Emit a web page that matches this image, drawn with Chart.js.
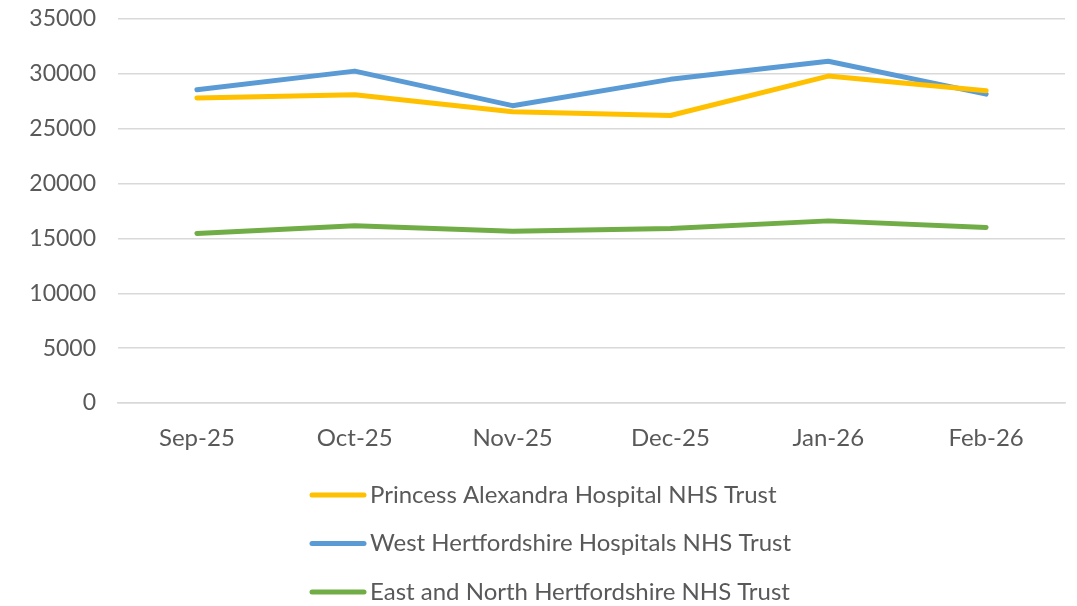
<!DOCTYPE html>
<html>
<head>
<meta charset="utf-8">
<script src="https://cdn.jsdelivr.net/npm/chart.js@4"></script>
<style>
  html, body { margin: 0; padding: 0; background: #fff; }
  #wrap { width: 1077px; height: 606px; }
</style>
</head>
<body>
<div id="wrap"><canvas id="chart" width="1077" height="606"></canvas></div>
<script>
// chart data
const months = ['Sep-25', 'Oct-25', 'Nov-25', 'Dec-25', 'Jan-26', 'Feb-26'];
const princessAlexandra = [27800, 28100, 26550, 26200, 29800, 28450];
const westHerts = [28550, 30250, 27100, 29500, 31150, 28150];
const eastNorthHerts = [15450, 16150, 15650, 15900, 16600, 16000];
const yTicks = [0, 5000, 10000, 15000, 20000, 25000, 30000, 35000];

const seriesNames = [
  'Princess Alexandra Hospital NHS Trust',
  'West Hertfordshire Hospitals NHS Trust',
  'East and North Hertfordshire NHS Trust'
];
const colors = ['#FFC000', '#5B9BD5', '#70AD47'];
const textColor = '#595959';
const font = 'Lato, "Open Sans", sans-serif';

// legend stacked vertically under the plot, like the Excel original
const stackedLegend = {
  id: 'stackedLegend',
  afterDraw(chart) {
    const ctx = chart.ctx;
    ctx.save();
    chart.data.datasets.forEach((ds, i) => {
      const y = 495 + i * 48.5;
      ctx.strokeStyle = ds.borderColor;
      ctx.lineWidth = 5;
      ctx.lineCap = 'round';
      ctx.beginPath();
      ctx.moveTo(312, y);
      ctx.lineTo(364, y);
      ctx.stroke();
      ctx.fillStyle = textColor;
      ctx.font = '24px ' + font;
      ctx.textBaseline = 'middle';
      ctx.fillText(ds.label, 370, y);
    });
    ctx.restore();
  }
};

const datasets = [princessAlexandra, westHerts, eastNorthHerts].map((vals, i) => ({
  label: seriesNames[i],
  data: vals,
  borderColor: colors[i],
  backgroundColor: colors[i],
  borderWidth: 5,
  borderCapStyle: 'round',
  borderJoinStyle: 'round',
  pointRadius: 0,
  tension: 0
}));

new Chart(document.getElementById('chart'), {
  type: 'line',
  data: { labels: months, datasets: datasets },
  options: {
    responsive: false,
    animation: false,
    layout: { padding: { top: 19, right: 12, bottom: 143, left: 0 } },
    plugins: {
      legend: { display: false },
      tooltip: { enabled: false }
    },
    scales: {
      x: {
        offset: true,
        grid: { display: false, drawTicks: false },
        border: { color: '#d9d9d9', width: 1.5 },
        ticks: { color: textColor, font: { family: font, size: 24 }, padding: 21, maxRotation: 0 },
        afterFit(scale) {
          scale.height = 60;
          scale.paddingLeft = 0;
          scale.paddingRight = 0;
        }
      },
      y: {
        min: 0,
        max: 35000,
        afterBuildTicks(scale) {
          scale.ticks = yTicks.map(v => ({ value: v }));
        },
        afterFit(scale) {
          scale.width = 118;
          scale.paddingTop = 0;
          scale.paddingBottom = 0;
        },
        grid: { color: '#d9d9d9', lineWidth: 1.5, drawTicks: false },
        border: { display: false },
        ticks: {
          color: textColor,
          font: { family: font, size: 23 },
          padding: 22,
          callback: v => String(v)
        }
      }
    }
  },
  plugins: [stackedLegend]
});
</script>
</body>
</html>
